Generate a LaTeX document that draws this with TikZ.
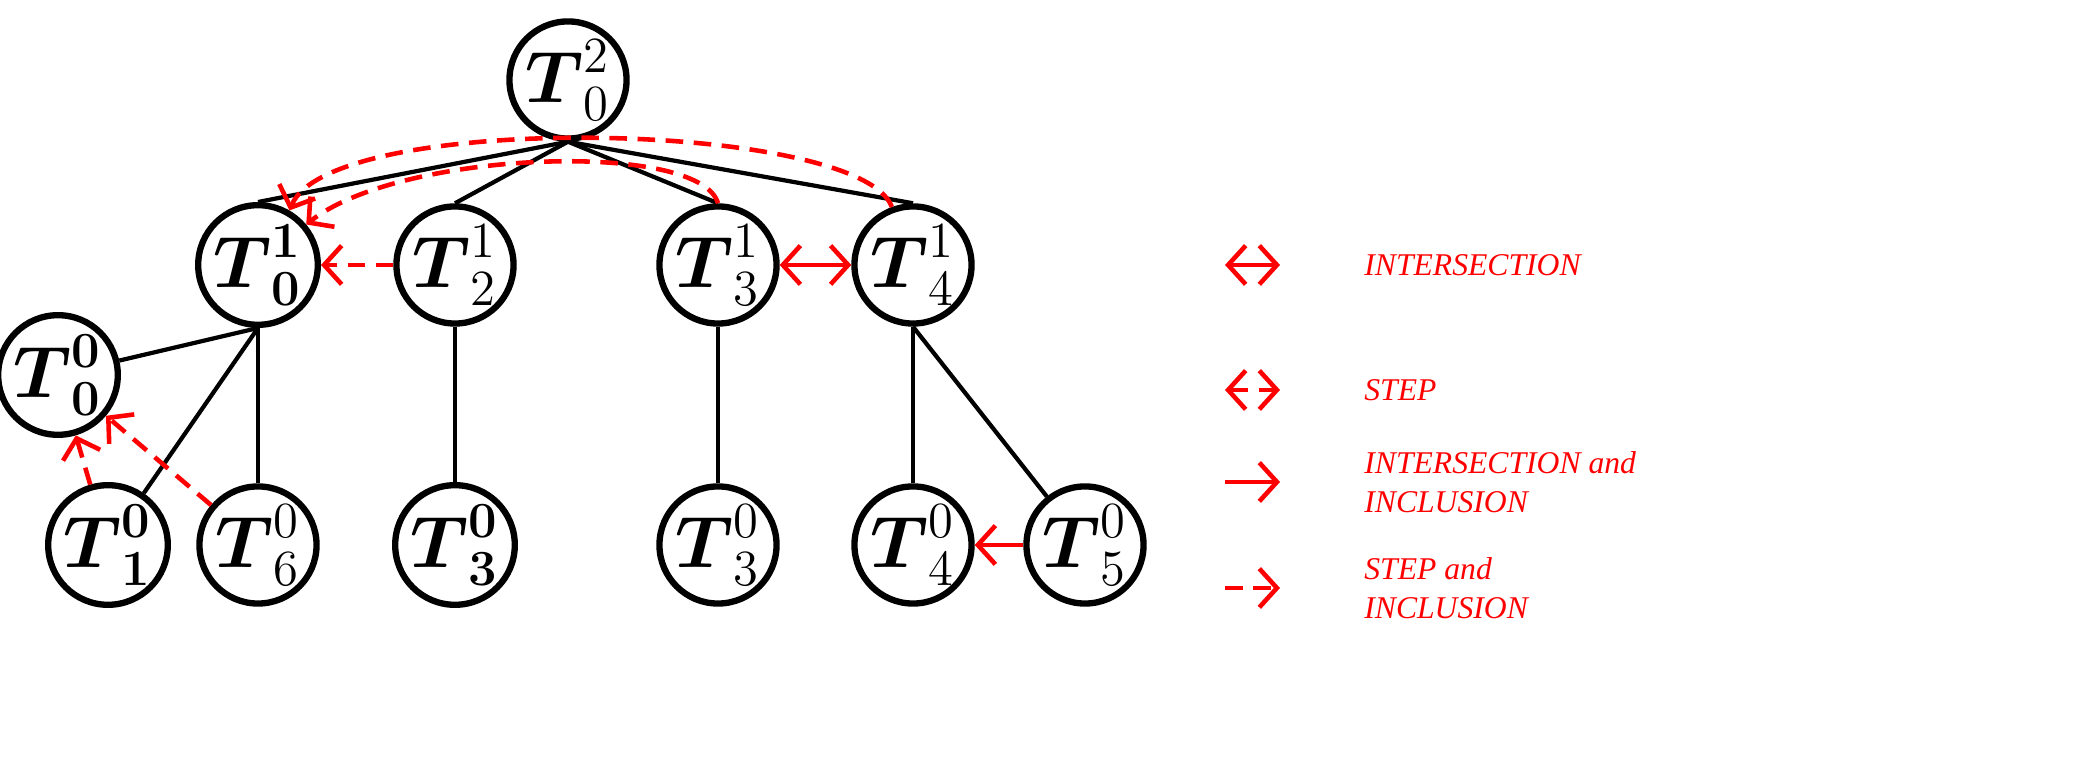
\documentclass[tikz,border=0pt]{standalone}
\usepackage{fontspec}
\setmainfont{Liberation Serif}
\usepackage{amsmath}
\usepackage{tikz}
\usetikzlibrary{arrows.meta}
\usetikzlibrary{positioning}
\tikzset{tree vertex/.style={draw,circle,line width=1.8pt,minimum size=0.96cm,inner sep=0pt,font=\huge}}
\tikzset{tree edge/.style={draw,line width=1.2pt}}
\tikzset{rel/.style={draw,red,line width=1.3pt,-{Straight Barb[length=5pt,width=11pt]}}}
\tikzset{both rel/.style={rel,{Straight Barb[length=5pt,width=11pt]}-{Straight Barb[length=5pt,width=11pt]}}}
\tikzset{step rel/.style={dash pattern=on 5pt off 3pt}}
\newcommand{\TT}[2]{$\boldsymbol{T}^{#1}_{#2}$}
\newcommand{\TB}[2]{$\boldsymbol{T}^{\boldsymbol{#1}}_{\boldsymbol{#2}}$}

\begin{document}
\begin{tikzpicture}
      [
      x=0.01cm,y=-0.01cm,
      legend text/.style={font=\itshape\small,anchor=west,align=left},
      ]
      \useasboundingbox (0,0) rectangle (2084,774);

      % vertices
      \node [tree vertex] (R) at (568,80) {\TT{2}{0}};
      \foreach \n/\x/\l in {A/258/\TB{1}{0},B/455/\TT{1}{2},C/718/\TT{1}{3},D/913/\TT{1}{4}}
      {
      \node [tree vertex] (\n) at (\x,265) {\l};
      }
      \node [tree vertex] (L0) at (58,375) {\TB{0}{0}};
      \foreach \n/\x/\l in {L1/108/\TB{0}{1},L6/258/\TT{0}{6},L3/455/\TB{0}{3},M3/718/\TT{0}{3},L4/913/\TT{0}{4},L5/1085/\TT{0}{5}}
      {
      \node [tree vertex] (\n) at (\x,545) {\l};
      }

      % tree edges
      \foreach \c in {A,B,C,D}
      \path [tree edge] (R.south) -- (\c.north);
      \foreach \c in {L0,L1,L6}
      \path [tree edge] (A.south) -- (\c);
      \path [tree edge] (B) -- (L3);
      \path [tree edge] (C) -- (M3);
      \path [tree edge] (D.south) -- (L4.north);
      \path [tree edge] (D.south) -- (L5);

      % relations
      \path [both rel] (C) -- (D);
      \path [rel] (L5) -- (L4);
      \path [rel,step rel] (B) -- (A);
      \path [rel,step rel] (L1) -- (L0);
      \path [rel,step rel] (L6) -- (L0);
      \path [rel,step rel] (C.north) .. controls (700,140) and (400,150) .. (A.40);
      \path [rel,step rel] (D.110) .. controls (860,120) and (330,110) .. (A.60);

      % legend
      \coordinate (k1) at (1225,265);
      \coordinate (k2) at (1225,390);
      \coordinate (k3) at (1225,482);
      \coordinate (k4) at (1225,588);
      \path [both rel] (k1) -- ++(55,0) node [legend text,xshift=20] {INTERSECTION};
      \path [both rel,step rel] (k2) -- ++(55,0) node [legend text,xshift=20] {STEP};
      \path [rel] (k3) -- ++(55,0) node [legend text,xshift=20] {INTERSECTION and\\INCLUSION};
      \path [rel,step rel] (k4) -- ++(55,0) node [legend text,xshift=20] {STEP and\\INCLUSION};

    \end{tikzpicture}
\end{document}
